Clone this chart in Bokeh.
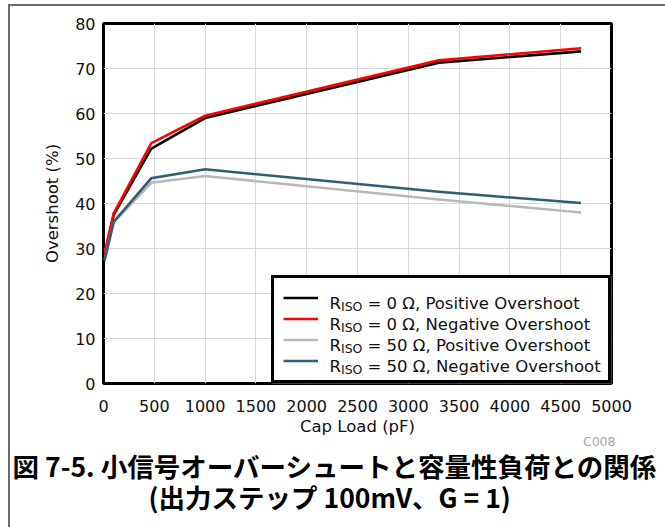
from bokeh.plotting import figure
from bokeh.models import (Range1d, FixedTicker, Legend, LegendItem, Label,
                          Title, BoxAnnotation, ColumnDataSource)
from bokeh.embed import file_html
from bokeh.resources import INLINE

# ---------------- data ----------------
cap_load = [10, 100, 470, 1000, 3300, 4700]
riso0_positive = [28.0, 37.5, 52.2, 59.0, 71.3, 73.8]
riso0_negative = [29.0, 37.8, 53.4, 59.5, 71.8, 74.5]
riso50_positive = [27.5, 35.8, 44.6, 46.1, 40.9, 38.0]
riso50_negative = [27.3, 35.9, 45.6, 47.6, 42.6, 40.1]

x_ticks = [0, 500, 1000, 1500, 2000, 2500, 3000, 3500, 4000, 4500, 5000]
y_ticks = [0, 10, 20, 30, 40, 50, 60, 70, 80]

legend_main = ["R", "R", "R", "R"]
legend_sub = ["ISO", "ISO", "ISO", "ISO"]
legend_rest = ["= 0 \u03a9, Positive Overshoot",
               "= 0 \u03a9, Negative Overshoot",
               "= 50 \u03a9, Positive Overshoot",
               "= 50 \u03a9, Negative Overshoot"]

x_title = "Cap Load (pF)"
y_title = "Overshoot (%)"
caption_1 = "図 7-5. 小信号オーバーシュートと容量性負荷との関係"
caption_2 = "(出力ステップ 100mV、G = 1)"
code_text = "C008"

# ---------------- styles ----------------
FONT = "DejaVu Sans"
CJK = "Noto Sans CJK JP"
series_colors = ["#000000", "#ff0000", "#b8b8b8", "#2f5e76"]

p = figure(width=665, height=527, output_backend="svg", toolbar_location=None,
           x_range=Range1d(0, 5000), y_range=Range1d(0, 80),
           min_border_left=103, min_border_right=54, min_border_top=23,
           min_border_bottom=144)
p.title.visible = False
p.background_fill_color = "white"
p.border_fill_alpha = 0
p.styles = {
    "background": ("linear-gradient(#6b6b6b, #6b6b6b) 8px 4px / 2px 600px no-repeat, "
                   "linear-gradient(#6b6b6b, #6b6b6b) 8px 4px / 700px 2px no-repeat, "
                   "white"),
}
p.outline_line_color = "black"
p.outline_line_width = 3

p.xaxis.ticker = FixedTicker(ticks=x_ticks)
p.yaxis.ticker = FixedTicker(ticks=y_ticks)
p.xgrid.ticker = FixedTicker(ticks=x_ticks)
p.ygrid.ticker = FixedTicker(ticks=y_ticks)
for g in (p.xgrid, p.ygrid):
    g.grid_line_color = "#d9d9d9"
    g.grid_line_width = 1

for ax in (p.xaxis, p.yaxis):
    ax.axis_line_color = None
    ax.major_tick_line_color = None
    ax.minor_tick_line_color = None
    ax.major_tick_in = 0
    ax.major_tick_out = 0
    ax.minor_tick_in = 0
    ax.minor_tick_out = 0
    ax.major_label_text_font = FONT
    ax.major_label_text_font_size = "16px"
    ax.major_label_text_color = "#111111"
    ax.axis_label_text_font = FONT
    ax.axis_label_text_font_size = "16.5px"
    ax.axis_label_text_font_style = "normal"
    ax.axis_label_text_color = "#111111"

p.xaxis.axis_label = x_title
p.yaxis.axis_label = y_title
p.xaxis.major_label_standoff = 16
p.xaxis.axis_label_standoff = 2
p.yaxis.major_label_standoff = 8
p.yaxis.axis_label_standoff = 10

src = ColumnDataSource(dict(x=cap_load, a=riso0_positive, b=riso0_negative,
                            c=riso50_positive, d=riso50_negative))
renderers = []
for key, col in zip(["a", "b", "c", "d"], series_colors):
    renderers.append(p.line("x", key, source=src, line_color=col,
                            line_width=2.6, line_join="miter"))

# white backing for the legend box (legend itself is transparent so the
# separately drawn texts with subscripts stay visible)
LEG_W, LEG_H = 339, 107
p.add_layout(BoxAnnotation(left=508 - LEG_W, right=508, bottom=0, top=LEG_H,
                           left_units="screen", right_units="screen",
                           top_units="screen", bottom_units="screen",
                           fill_color="white", fill_alpha=1.0, line_alpha=0))

ROW = 21
legend = Legend(items=[LegendItem(label=" ", renderers=[r]) for r in renderers],
                location="bottom_right", margin=0, padding=9, spacing=0,
                glyph_width=35, glyph_height=ROW, label_height=ROW,
                label_width=272, label_standoff=9,
                border_line_color="black", border_line_width=3,
                border_line_alpha=1.0, background_fill_alpha=0.0,
                label_text_font=FONT, label_text_font_size="16px")
p.add_layout(legend)

for i in range(len(renderers)):
    row_y = LEG_H - 21.5 - ROW * i
    p.add_layout(Label(x=226, y=row_y - 5.5, x_units="screen", y_units="screen",
                       text=legend_main[i], text_font=FONT, text_font_size="16.5px",
                       text_color="#111111", text_baseline="alphabetic",
                       text_align="left"))
    p.add_layout(Label(x=237.5, y=row_y - 8.5, x_units="screen", y_units="screen",
                       text=legend_sub[i], text_font=FONT, text_font_size="12.5px",
                       text_color="#111111", text_baseline="alphabetic",
                       text_align="left"))
    p.add_layout(Label(x=264, y=row_y - 5.5, x_units="screen", y_units="screen",
                       text=legend_rest[i], text_font=FONT, text_font_size="16.5px",
                       text_color="#111111", text_baseline="alphabetic",
                       text_align="left"))

# code and caption under the chart
p.add_layout(Title(text=code_text, align="right", offset=-4, standoff=-14,
                   text_font=FONT, text_font_size="12.5px",
                   text_font_style="normal", text_color="#a6a6a6"), "below")
p.add_layout(Title(text=caption_1, align="left", offset=-91, standoff=4,
                   text_font=CJK, text_font_size="26.5px",
                   text_font_style="bold", text_color="#000000"), "below")
p.add_layout(Title(text=caption_2, align="left", offset=45, standoff=-24,
                   text_font=CJK, text_font_size="26.5px",
                   text_font_style="bold", text_color="#000000"), "below")

open("out.html", "w").write(file_html(p, INLINE))
